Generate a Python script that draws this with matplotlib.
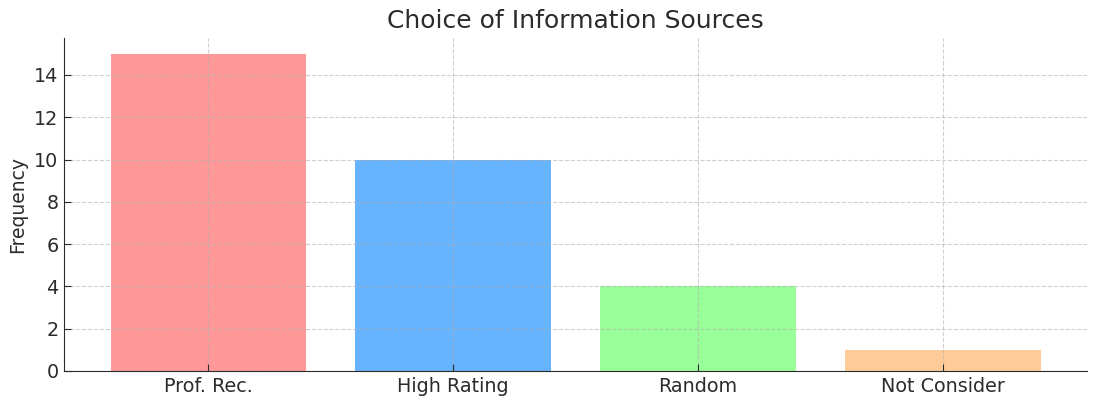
import matplotlib
matplotlib.use("Agg")
import matplotlib.pyplot as plt

categories = ["Prof. Rec.", "High Rating", "Random", "Not Consider"]
frequencies = [15, 10, 4, 1]
colors = ["#ff9999", "#66b3ff", "#99ff99", "#ffcc99"]

fig = plt.figure(figsize=(10.93, 4.03), dpi=100)
ax = fig.add_axes([64/1093, 1 - 371/403, (1087-64)/1093, (371-38)/403])
ax.bar(categories, frequencies, color=colors)
ax.set_title("Choice of Information Sources", fontsize=18, color="#2b2b2b", pad=7)
ax.set_ylabel("Frequency", fontsize=13.5, color="#2b2b2b", labelpad=5)
ax.tick_params(labelsize=13.8, colors="#2b2b2b", direction="in", length=5, pad=4)
ax.grid(True, linestyle="--", color="#b0b0b0", alpha=0.6)
ax.spines["top"].set_visible(False)
ax.spines["right"].set_visible(False)
ax.spines["left"].set_color("#2b2b2b")
ax.spines["bottom"].set_color("#2b2b2b")
fig.savefig("out.png", dpi=100)
